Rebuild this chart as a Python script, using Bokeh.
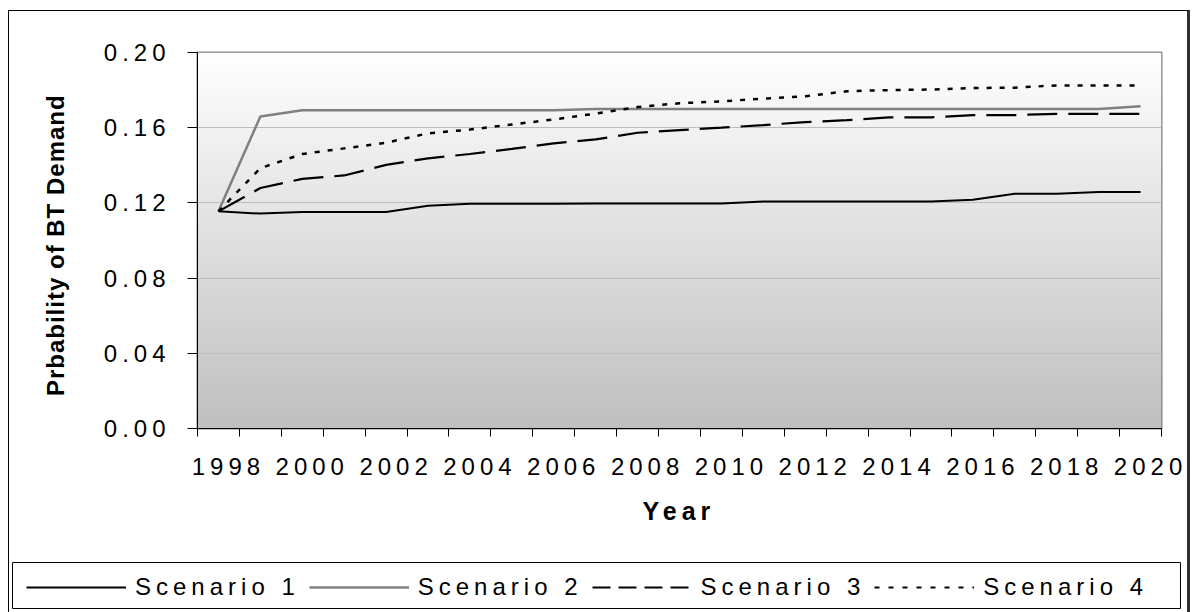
import numpy as np
from bokeh.plotting import figure
from bokeh.models import (FixedTicker, NumeralTickFormatter, Legend, LegendItem,
                          Label, Range1d, Title)
from bokeh.layouts import row, column
from bokeh.embed import file_html
from bokeh.resources import INLINE

FONT = "Liberation Sans"

years = [1998, 1999, 2000, 2001, 2002, 2003, 2004, 2005, 2006, 2007, 2008, 2009,
         2010, 2011, 2012, 2013, 2014, 2015, 2016, 2017, 2018, 2019, 2020]
year_labels = [1998, 2000, 2002, 2004, 2006, 2008, 2010, 2012, 2014, 2016, 2018, 2020]
y_ticks = [0.0, 0.04, 0.08, 0.12, 0.16, 0.20]

scenario1 = [0.1155, 0.1143, 0.1152, 0.1152, 0.1152, 0.1185, 0.1196, 0.1196, 0.1196,
             0.1197, 0.1197, 0.1197, 0.1197, 0.1208, 0.1208, 0.1208, 0.1208, 0.1208,
             0.1217, 0.1249, 0.1249, 0.1258, 0.1258]
scenario2 = [0.1155, 0.1660, 0.1693, 0.1693, 0.1693, 0.1693, 0.1693, 0.1693, 0.1693,
             0.1700, 0.1700, 0.1700, 0.1700, 0.1700, 0.1700, 0.1700, 0.1700, 0.1700,
             0.1700, 0.1700, 0.1700, 0.1700, 0.1714]
scenario3 = [0.1155, 0.1279, 0.1328, 0.1346, 0.1402, 0.1437, 0.1460, 0.1487, 0.1517,
             0.1538, 0.1573, 0.1587, 0.1600, 0.1614, 0.1630, 0.1640, 0.1655, 0.1655,
             0.1667, 0.1667, 0.1674, 0.1674, 0.1674]
scenario4 = [0.1155, 0.1385, 0.1460, 0.1490, 0.1520, 0.1570, 0.1590, 0.1617, 0.1644,
             0.1675, 0.1710, 0.1730, 0.1740, 0.1755, 0.1767, 0.1794, 0.1800, 0.1803,
             0.1811, 0.1813, 0.1825, 0.1825, 0.1825]
series_names = ["Scenario 1", "Scenario 2", "Scenario 3", "Scenario 4"]
x_title = "Year"
y_title = "Prbability of BT Demand"

x0 = years[0] - 0.5
x1 = years[-1] + 0.5
boundaries = [y - 0.5 for y in years] + [years[-1] + 0.5]

SPACING = {"letter-spacing": "5px"}

# ---------------- main plot ----------------
main = figure(width=1088, height=545, x_range=Range1d(x0, x1), y_range=Range1d(0, 0.2),
              output_backend="svg", toolbar_location=None, title=None,
              min_border_left=98, min_border_right=26, min_border_top=41,
              min_border_bottom=128, background_fill_color="white",
              border_fill_color="white", styles=SPACING)

# vertical gradient background of the plot area
n = 256
g = np.linspace(192, 255, n).astype(np.uint8)
img = np.zeros((n, 2), dtype=np.uint32)
view = img.view(dtype=np.uint8).reshape((n, 2, 4))
view[:, :, 0] = g[:, None]
view[:, :, 1] = g[:, None]
view[:, :, 2] = g[:, None]
view[:, :, 3] = 255
main.image_rgba(image=[img], x=x0, y=0, dw=x1 - x0, dh=0.2, level="image")

main.xgrid.visible = False
main.ygrid.ticker = FixedTicker(ticks=y_ticks)
main.ygrid.grid_line_color = "#bcbcbc"
main.ygrid.grid_line_width = 1

main.outline_line_color = "#808080"
main.outline_line_width = 2

r1 = main.line(years, scenario1, line_color="black", line_width=2)
r2 = main.line(years, scenario2, line_color="#808080", line_width=2.5)
r3 = main.line(years, scenario3, line_color="black", line_width=2.2, line_dash="30 11")
r4 = main.line(years, scenario4, line_color="black", line_width=2.5, line_dash="5 8")

yax = main.yaxis[0]
yax.ticker = FixedTicker(ticks=y_ticks)
yax.formatter = NumeralTickFormatter(format="0.00")
yax.major_tick_out = 10
yax.major_tick_in = 0
yax.minor_tick_line_color = None
yax.axis_line_color = "black"
yax.major_tick_line_color = "black"
yax.major_label_text_font = FONT
yax.major_label_text_font_size = "24px"
yax.major_label_text_color = "black"
yax.major_label_standoff = 37

xax = main.xaxis[0]
xax.ticker = FixedTicker(ticks=year_labels, minor_ticks=boundaries)
xax.major_tick_line_color = None
xax.major_tick_out = 8
xax.major_tick_in = 0
xax.minor_tick_out = 8
xax.minor_tick_in = 0
xax.minor_tick_line_color = "black"
xax.axis_line_color = "black"
xax.major_label_text_font = FONT
xax.major_label_text_font_size = "24px"
xax.major_label_text_color = "black"
xax.major_label_standoff = 21

# x axis title as a title below the axis
main.add_layout(Title(text=x_title, align="left", offset=445, standoff=34,
                      text_font=FONT, text_font_size="25px", text_font_style="bold",
                      text_color="black"), "below")

# ---------------- y title panel ----------------
left = figure(width=90, height=545, x_range=Range1d(0, 90), y_range=Range1d(0, 545),
              x_axis_type=None, y_axis_type=None, output_backend="svg", title=None,
              toolbar_location=None, min_border=0, outline_line_color=None,
              background_fill_color="white", border_fill_color="white",
              styles={"letter-spacing": "1px"})
left.add_layout(Label(x=46, y=249, text=y_title, angle=90,
                      angle_units="deg", text_align="center", text_baseline="middle",
                      text_font=FONT, text_font_size="24px", text_font_style="bold",
                      text_color="black"))

# ---------------- legend panel ----------------
leg = figure(width=1178, height=56, x_range=Range1d(0, 1), y_range=Range1d(0, 1),
             x_axis_type=None, y_axis_type=None, output_backend="svg", title=None,
             toolbar_location=None, min_border_left=3, min_border_right=7,
             min_border_top=6, min_border_bottom=4,
             outline_line_color="black", outline_line_width=1,
             background_fill_color="white", border_fill_color="white", styles=SPACING)
l1 = leg.line([-10, -9], [-10, -10], line_color="black", line_width=2)
l2 = leg.line([-10, -9], [-10, -10], line_color="#808080", line_width=2.5)
l3 = leg.line([-10, -9], [-10, -10], line_color="black", line_width=2, line_dash="18 8")
l4 = leg.line([-10, -9], [-10, -10], line_color="black", line_width=2, line_dash="5 9")
legend = Legend(items=[LegendItem(label=series_names[0], renderers=[l1]),
                       LegendItem(label=series_names[1], renderers=[l2]),
                       LegendItem(label=series_names[2], renderers=[l3]),
                       LegendItem(label=series_names[3], renderers=[l4])],
                orientation="horizontal", location=(14, 7), glyph_width=100,
                glyph_height=20, label_standoff=9, spacing=9, label_width=160,
                padding=0, margin=0, border_line_color=None,
                background_fill_alpha=0,
                label_text_font=FONT, label_text_font_size="24px",
                label_text_color="black")
leg.add_layout(legend)

layout = column(row(left, main), leg, margin=(10, 0, 0, 8),
                styles={"border-left": "1px solid black", "border-top": "1px solid black",
                        "border-right": "3px solid #303030"})

open("out.html", "w").write(file_html(layout, INLINE))
